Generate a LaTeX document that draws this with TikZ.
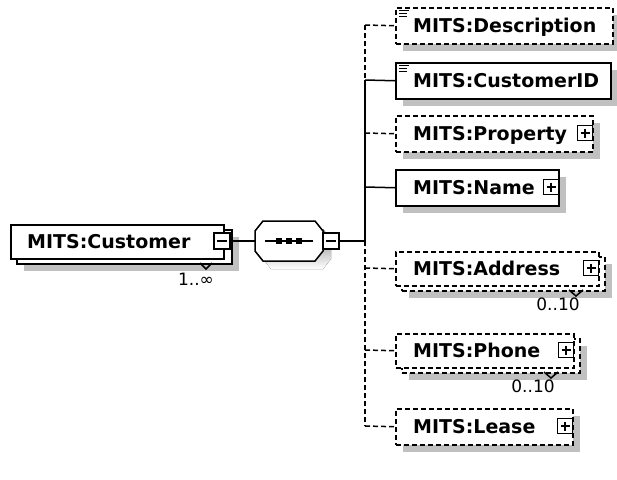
\documentclass[tikz,border=0pt]{standalone}
\usepackage{fontspec}
\setmainfont{DejaVu Sans}
\definecolor{shade}{RGB}{192,192,192}
\begin{document}
\begin{tikzpicture}[x=1pt,y=-1pt,
  ln/.style={line width=1.5pt},
  opt/.style={dash pattern=on 5pt off 3pt},
  box/.style={draw, ln, fill=white, inner sep=0pt, anchor=north west},
  shd/.style={fill=shade, draw=none, inner sep=0pt, anchor=north west},
  elname/.style={anchor=base west, inner sep=0pt, font=\fontsize{19}{20}\selectfont\bfseries},
  occ/.style={anchor=center, inner sep=0pt, font=\fontsize{17}{18}\selectfont},
  pm/.style={draw, ln, fill=white, minimum size=15pt, inner sep=0pt},
  plusbox/.style={pm, path picture={
     \draw[ln] ([xshift=3pt]path picture bounding box.west) -- ([xshift=-3pt]path picture bounding box.east);
     \draw[ln] ([yshift=-3pt]path picture bounding box.north) -- ([yshift=3pt]path picture bounding box.south);}},
  minusbox/.style={pm, path picture={
     \draw[ln] ([xshift=3pt]path picture bounding box.west) -- ([xshift=-3pt]path picture bounding box.east);}}
]
\useasboundingbox (0,0) rectangle (617,479);

% ---------- shadows ----------
\node[shd, minimum width=215pt, minimum height=34pt] (custS) at (24,237) {};
\fill[shade] (263,239) -- (271,229) -- (323,229) -- (331,239) -- (331,259) -- (323,269) -- (271,269) -- (263,259) -- cycle;
\node[shd, minimum width=217pt, minimum height=36pt] (descS) at (403,15) {};
\node[shd, minimum width=215pt, minimum height=36pt] (cidS) at (403,70) {};
\node[shd, minimum width=197pt, minimum height=36pt] (propS) at (403,123) {};
\node[shd, minimum width=163pt, minimum height=36pt] (nameS) at (403,177) {};
\node[shd, minimum width=203pt, minimum height=34pt] (addrS) at (409,264) {};
\node[shd, minimum width=178pt, minimum height=34pt] (phoneS) at (409,346) {};
\node[shd, minimum width=177pt, minimum height=36pt] (leaseS) at (403,416) {};

% ---------- bus coordinates ----------
\coordinate (bDesc) at (365,25);
\coordinate (bCid) at (365,80);
\coordinate (bProp) at (365,133);
\coordinate (bName) at (365,187);
\coordinate (bJoin) at (365,241);
\coordinate (bAddr) at (365,268);
\coordinate (bPhone) at (365,350);
\coordinate (bLease) at (365,426);

% ---------- Customer ----------
\node[box, minimum width=215pt, minimum height=34pt] (custB) at (16,229) {};
\node[box, minimum width=213pt, minimum height=34pt] (cust) at (10,224) {};
\node[elname] (custT) at (27,248) {MITS:Customer};
\node[minusbox, minimum size=16pt] (custM) at (222,241) {};
\draw[ln] (200,263) -- (206,269) -- (212,263);
\node[occ] (custO) at (196,279) {1..∞};

% ---------- sequence ----------
\coordinate (seqW) at (255,241);
\coordinate (seqE) at (323,241);
\draw[ln, fill=white] (255,231) -- (263,221) -- (315,221) -- (323,231) -- (323,251) -- (315,261) -- (263,261) -- (255,251) -- cycle;
\draw[ln] (265,241) -- (313,241);
\foreach \i/\xx in {1/279,2/289,3/299} \node[fill=black, minimum size=6pt, inner sep=0pt] (dot\i) at (\xx,241) {};
\node[minusbox, minimum size=16pt] (seqM) at (331,241) {};
\draw[ln] (custM.east) -- (seqW);
\draw[ln] (seqM.east) -- (bJoin);

% ---------- bus ----------
\draw[ln, opt] (bDesc) -- (bCid);
\draw[ln] (bCid) -- (bJoin);
\draw[ln, opt] (bJoin) -- (bLease);

% ---------- Description ----------
\node[box, opt, minimum width=217pt, minimum height=36pt] (desc) at (395,7) {};
\draw[line width=1.1pt] (399,10.5) -- (409,10.5) (399,13.5) -- (407,13.5) (399,16.5) -- (407,16.5);
\node[elname] (descT) at (413,32) {MITS:Description};
\draw[ln, opt] (bDesc) -- (desc.west);

% ---------- CustomerID ----------
\node[box, minimum width=215pt, minimum height=36pt] (cid) at (395,62) {};
\draw[line width=1.1pt] (399,65.5) -- (409,65.5) (399,68.5) -- (407,68.5) (399,71.5) -- (407,71.5);
\node[elname] (cidT) at (413,87) {MITS:CustomerID};
\draw[ln] (bCid) -- (cid.west);

% ---------- Property ----------
\node[box, opt, minimum width=197pt, minimum height=36pt] (prop) at (395,115) {};
\node[elname] (propT) at (413,140) {MITS:Property};
\node[plusbox] (propP) at (585,133) {};
\draw[ln, opt] (bProp) -- (prop.west);

% ---------- Name ----------
\node[box, minimum width=163pt, minimum height=36pt] (name) at (395,169) {};
\node[elname] (nameT) at (413,194) {MITS:Name};
\node[plusbox] (nameP) at (551,187) {};
\draw[ln] (bName) -- (name.west);

% ---------- Address ----------
\node[box, opt, minimum width=203pt, minimum height=34pt] (addrB) at (401,256) {};
\node[box, opt, minimum width=203pt, minimum height=34pt] (addr) at (395,251) {};
\node[elname] (addrT) at (413,275) {MITS:Address};
\node[plusbox] (addrP) at (591,268) {};
\draw[ln] (569,290) -- (576,296) -- (583,290);
\node[occ] (addrO) at (558,304) {0..10};
\draw[ln, opt] (bAddr) -- (addr.west);

% ---------- Phone ----------
\node[box, opt, minimum width=178pt, minimum height=34pt] (phoneB) at (401,338) {};
\node[box, opt, minimum width=178pt, minimum height=34pt] (phone) at (395,333) {};
\node[elname] (phoneT) at (413,357) {MITS:Phone};
\node[plusbox] (phoneP) at (566,350) {};
\draw[ln] (544,372) -- (551,378) -- (558,372);
\node[occ] (phoneO) at (533,386) {0..10};
\draw[ln, opt] (bPhone) -- (phone.west);

% ---------- Lease ----------
\node[box, opt, minimum width=177pt, minimum height=36pt] (lease) at (395,408) {};
\node[elname] (leaseT) at (413,433) {MITS:Lease};
\node[plusbox] (leaseP) at (565,426) {};
\draw[ln, opt] (bLease) -- (lease.west);
\end{tikzpicture}
\end{document}
